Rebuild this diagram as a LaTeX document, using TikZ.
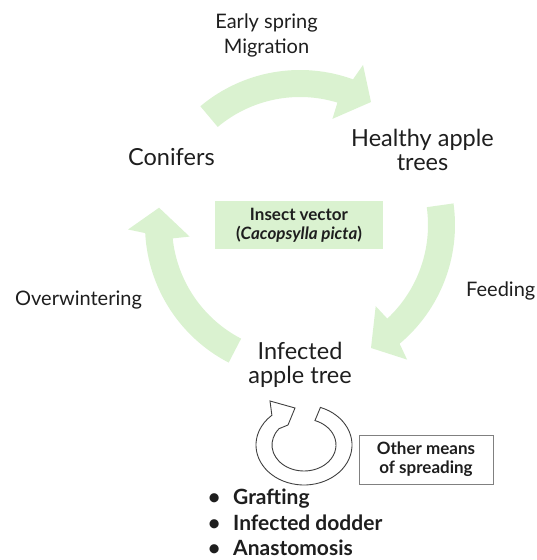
\documentclass[tikz,border=0pt]{standalone}
\usepackage{fontspec}
\setmainfont{Lato}
\usetikzlibrary{calc}
\definecolor{leaf}{RGB}{218,242,208}
\definecolor{ink}{RGB}{30,30,30}
% curved cycle arrow: #1 tail angle, #2 angle where the head begins
\newcommand\bandarrow[2]{%
  \fill[leaf] ($(cyc)+(#1:155)$) arc[start angle=#1, end angle={#2-1}, radius=155]
    -- ($(cyc)+({#2-2.5}:172)$) -- ($(cyc)+({#2-11}:142)$) -- ($(cyc)+({#2+2}:111)$)
    -- ($(cyc)+({#2+2}:128)$) arc[start angle={#2+2}, end angle=#1, radius=128] -- cycle;}
\begin{document}
\begin{tikzpicture}[x=1pt,y=1pt,
  big/.style={font=\fontsize{23.5}{24}\selectfont, align=center, inner sep=0pt, text=ink},
  mid/.style={font=\fontsize{20}{25}\selectfont, align=center, inner sep=0pt, text=ink},
  tag/.style={font=\bfseries\fontsize{17}{19}\selectfont, align=center, inner sep=0pt, text=ink},
  item/.style={font=\bfseries\fontsize{21}{26}\selectfont, anchor=base west, inner sep=0pt, text=ink}]
\useasboundingbox (0,0) rectangle (536,560);
\coordinate (cyc) at (300,335);

% the three green cycle arrows
\bandarrow{130}{71}
\bandarrow{8}{-49}
\bandarrow{242.6}{184}

% labels of the cycle
\node[mid] (spring) at (266.5,525) {Early spring\\Migration};
\node[big, anchor=base west] (conifers) at (128,394) {Conifers};
\node[big] (healthy) at (422.5,409.7) {Healthy apple\\trees};
\node[mid, anchor=base west] (feeding) at (466,263) {Feeding};
\node[mid, anchor=base west] (winter) at (15,254) {Overwintering};
\node[big] (infected) at (300,195.3) {Infected\\apple tree};
\node[tag, fill=leaf, minimum width=168pt, minimum height=48pt] (vector) at (299,335)
  {Insect vector\\(\textit{Cacopsylla picta})};

% ring arrow for other ways of spreading
\coordinate (ring) at (304,115);
\draw[ink!85, line width=0.9pt, line join=miter]
  ($(ring)+({48*cos(70)},{40*sin(70)})$)
  arc[start angle=70, end angle=-228, x radius=48, y radius=40]
  -- (270,159) -- (295,152) -- (288,135)
  -- ($(ring)+({32*cos(141)},{26*sin(141)})$)
  arc[start angle=-219, end angle=70, x radius=32, y radius=26]
  -- cycle;

\node[tag, draw=black!50, line width=0.8pt, minimum width=134pt, minimum height=49pt] (other) at (426,100.5)
  {Other means\\of spreading};

% list of spreading routes
\foreach \y/\t [count=\i] in {55/Grafting, 30/Infected dodder, 5/Anastomosis}{
  \node[item] (b\i) at (208,\y) {\makebox[25pt][l]{\textbullet}\t};
}
\end{tikzpicture}
\end{document}
